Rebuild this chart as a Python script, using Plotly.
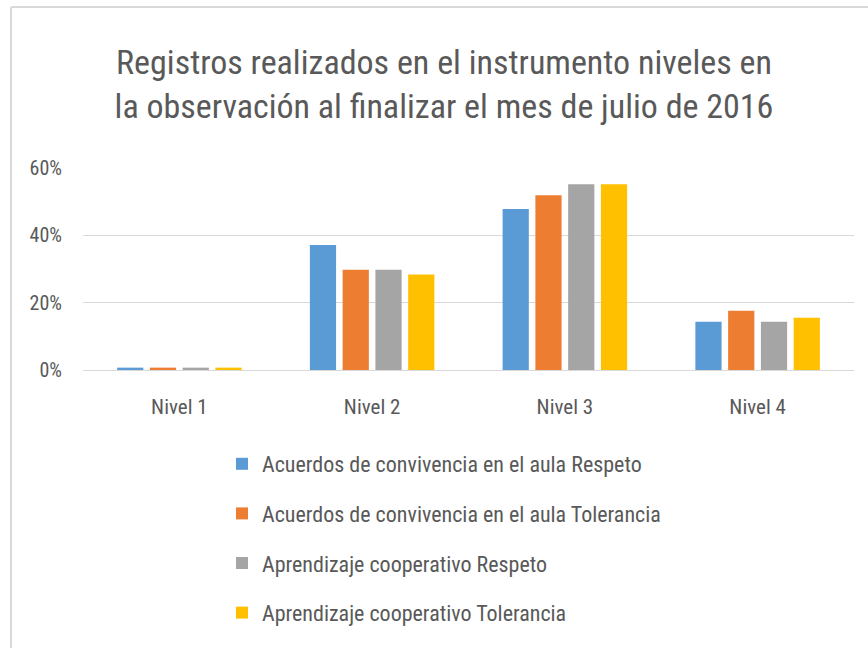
import plotly.graph_objects as go

categories = ["Nivel 1", "Nivel 2", "Nivel 3", "Nivel 4"]
series_names = [
    "Acuerdos de convivencia en el aula Respeto",
    "Acuerdos de convivencia en el aula Tolerancia",
    "Aprendizaje cooperativo Respeto",
    "Aprendizaje cooperativo Tolerancia",
]
acuerdos_respeto = [0.007, 0.371, 0.478, 0.143]
acuerdos_tolerancia = [0.007, 0.298, 0.519, 0.176]
aprendizaje_respeto = [0.007, 0.298, 0.552, 0.143]
aprendizaje_tolerancia = [0.007, 0.284, 0.552, 0.155]
colors = ["#5B9BD5", "#ED7D31", "#A5A5A5", "#FFC000"]

values = [acuerdos_respeto, acuerdos_tolerancia, aprendizaje_respeto, aprendizaje_tolerancia]

FONT = "Roboto Condensed, Liberation Sans Narrow, sans-serif"
W, H = 868, 648
L, R, T, B = 83, 14, 168, 278
pw = W - L - R
ph = H - T - B

fig = go.Figure()
for name, vals, col in zip(series_names, values, colors):
    fig.add_trace(go.Bar(
        x=categories, y=vals, name=name, legendgroup=name,
        marker=dict(color=col, line=dict(width=0)),
    ))

fig.update_layout(
    width=W, height=H,
    margin=dict(l=L, r=R, t=T, b=B, autoexpand=False),
    paper_bgcolor="white", plot_bgcolor="white",
    barmode="group", bargap=0.32, bargroupgap=0.2,
    font=dict(family=FONT, color="#595959"),
    title=dict(
        text="Registros realizados en el instrumento niveles en<br>la observación al finalizar el mes de julio de 2016",
        x=444 / W, xanchor="center", xref="container",
        y=1 - 74 / H, yanchor="middle", yref="container",
        font=dict(family=FONT, size=34, color="#595959"),
    ),
    xaxis=dict(
        showgrid=False, showline=False, ticks="",
        tickfont=dict(size=21, color="#595959"),
        ticklabelstandoff=22,
    ),
    yaxis=dict(
        range=[0, 0.6], dtick=0.2, tickformat=".0%",
        showgrid=True, gridcolor="#D9D9D9", gridwidth=1,
        zeroline=True, zerolinecolor="#D9D9D9", zerolinewidth=1,
        showline=False, ticks="",
        tickfont=dict(size=20, color="#595959"),
        ticklabelstandoff=20,
    ),
    legend=dict(
        xref="container", yref="container",
        x=222 / W, xanchor="left",
        y=1 - 443 / H, yanchor="top",
        orientation="v", tracegroupgap=18,
        font=dict(size=22, color="#595959"),
        itemwidth=30, bgcolor="rgba(0,0,0,0)",
    ),
    showlegend=True,
    shapes=[
        dict(type="line", xref="paper", yref="paper",
             x0=(11 - L) / pw, x1=(11 - L) / pw, y0=-B / ph, y1=(H - 7 - B) / ph,
             line=dict(color="#D9D9D9", width=2)),
        dict(type="line", xref="paper", yref="paper",
             x0=(11 - L) / pw, x1=(W - L) / pw, y0=(H - 7 - B) / ph, y1=(H - 7 - B) / ph,
             line=dict(color="#D9D9D9", width=2)),
    ],
)

fig.write_html("out.html", config={"displayModeBar": False},
               post_script="document.body.style.margin='0';")
